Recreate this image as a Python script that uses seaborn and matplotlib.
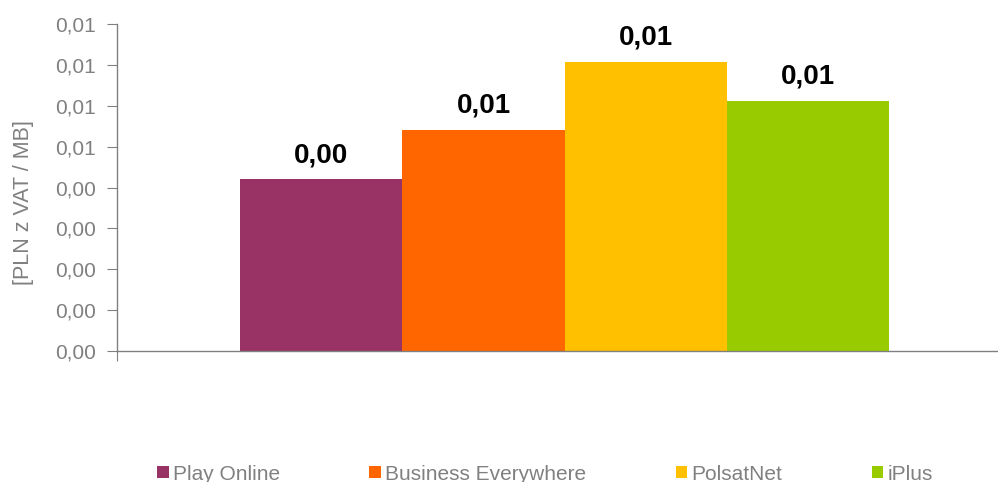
import matplotlib
matplotlib.use("Agg")
import matplotlib.pyplot as plt
import matplotlib.ticker as mticker
import pandas as pd
import seaborn as sns

# Data
services = ["Play Online", "Business Everywhere", "PolsatNet", "iPlus"]
prices = [0.0042, 0.00541, 0.00707, 0.00612]
colors = ["#993366", "#FF6600", "#FFC000", "#99CC00"]

df = pd.DataFrame({"grp": [""] * len(services), "service": services, "price": prices})

sns.set_style("white")
plt.rcParams["font.family"] = ["Liberation Sans", "DejaVu Sans"]
gray = "#808080"

fig = plt.figure(figsize=(9.98, 4.82), dpi=100)
ax = fig.add_axes([117 / 998, 1 - 351 / 482, 881 / 998, 327 / 482])

sns.barplot(data=df, x="grp", y="price", hue="service", palette=colors,
            saturation=1, width=0.8, linewidth=0, legend=True, ax=ax)

fmt = lambda v: f"{v:.2f}".replace(".", ",")
for cont in ax.containers:
    ax.bar_label(cont, labels=[fmt(b.get_height()) for b in cont],
                 padding=8, fontsize=20, fontweight="bold", color="black")

ax.set_ylim(0, 0.008)
ax.set_xlim(-0.5516, 0.534)
ax.yaxis.set_major_locator(mticker.MultipleLocator(0.001))
ax.yaxis.set_major_formatter(mticker.FuncFormatter(lambda v, p: fmt(v)))
ax.set_xticks([-0.5516])
ax.set_xticklabels([""])
ax.set_xlabel("")
ax.set_ylabel("[PLN z VAT / MB]", fontsize=15.5, color=gray)
ax.yaxis.set_label_coords(-0.094, 0.453)

for s in ["top", "right"]:
    ax.spines[s].set_visible(False)
for s in ["left", "bottom"]:
    ax.spines[s].set_color(gray)
    ax.spines[s].set_linewidth(1)
ax.tick_params(axis="y", direction="out", length=7, color=gray,
               labelsize=15, labelcolor=gray, left=True, pad=8)
ax.tick_params(axis="x", direction="out", length=7, color=gray, bottom=True)

handles, labels = ax.get_legend_handles_labels()
ax.get_legend().remove()
fig.legend(handles, labels, loc="center", bbox_to_anchor=(545 / 998, 1 - 474 / 482),
           ncol=4, frameon=False, fontsize=15, labelcolor=gray,
           handlelength=0.55, handleheight=0.55, handletextpad=0.2, columnspacing=4.3)

fig.savefig("out.png", dpi=100)
